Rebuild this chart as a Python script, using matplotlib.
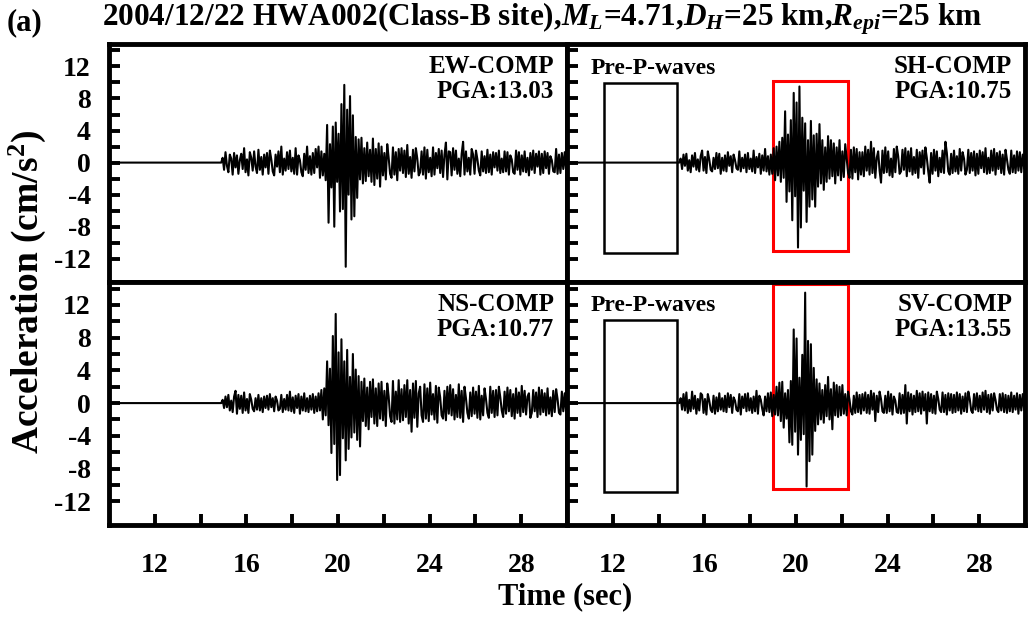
import numpy as np
import matplotlib.pyplot as plt
from matplotlib.patches import Rectangle

plt.rcParams['font.family'] = 'Liberation Serif'
plt.rcParams['font.weight'] = 'bold'
plt.rcParams['mathtext.fontset'] = 'custom'
plt.rcParams['mathtext.rm'] = 'Liberation Serif:bold'
plt.rcParams['mathtext.it'] = 'Liberation Serif:italic:bold'
plt.rcParams['mathtext.bf'] = 'Liberation Serif:bold'

# record starts flat at t_pre, samples (16 per sec) begin at t_start
t_pre = 10.0
t_start = 14.9
dt = 0.0625

# accelerations (cm/s^2), one row per second
ew = [
    0.0, 0.6, -0.9, 1.3, -0.4, -1.2, 1.0, 0.5, -1.5, 1.2, -0.6, 0.9, -1.4, 0.3, 1.1, -0.8,
    1.8, -1.2, 0.4, -1.6, 1.3, 0.6, -1.0, 1.4, -0.5, -1.3, 1.6, -0.9, 0.7, -1.5, 1.0, -0.6,
    1.2, -1.4, 1.5, 0.4, -1.1, -1.6, 1.0, -0.5, 1.4, -1.2, 2.0, -1.5, 0.5, -1.0, 1.3, -0.8,
    1.5, -1.1, 0.6, -1.4, 1.8, -1.5, 0.9, 0.3, -1.2, -1.7, 1.1, -0.9, 2.0, -1.3, 0.8, -1.5,
    1.2, -1.3, 1.7, -0.6, 2.0, -1.9, 1.4, -1.6, 1.1, -2.2, 4.7, -7.5, 2.3, -3.1, 4.5, -8.0,
    5.0, -2.4, 3.6, -6.1, 7.3, -5.8, 9.7, -13.0, 6.6, -4.0, 8.3, -7.1, 5.9, -6.7, 3.2, -4.4,
    2.9, -2.1, 3.1, -2.6, 1.8, -2.3, 2.5, -1.7, 1.6, -2.4, 3.0, -2.8, 1.7, -2.0, 2.4, -3.0,
    2.0, -1.6, 1.2, -2.1, 2.3, 0.6, -1.4, -1.9, 1.9, -1.5, 1.3, -2.2, 1.7, -1.0, 1.8, -1.3,
    1.5, -1.8, 2.2, -1.4, 0.7, -1.9, 1.6, -1.1, 1.8, 0.5, -1.6, -1.2, 1.4, -1.5, 1.9, -2.0,
    1.6, -1.2, 0.6, -1.7, 1.9, -1.5, 1.2, -0.7, 1.7, -1.3, 1.5, -1.8, 1.0, 2.5, -2.1, 1.4,
    1.3, -1.6, 1.8, -0.9, 1.5, -1.4, 0.5, -1.7, 1.1, 2.6, -1.5, 1.4, -1.1, 0.6, -1.5, 1.7,
    1.0, -1.4, 1.5, 0.4, -1.0, -1.6, 1.4, -1.1, 0.8, -1.3, 1.6, -1.2, 1.0, -1.5, 1.3, -0.6,
    1.2, -1.0, 1.5, -1.3, 0.5, -1.2, 1.4, -1.1, 1.3, -1.5, 0.9, 0.4, -1.2, -1.4, 1.5, -0.9,
    1.3, -1.5, 0.9, -1.1, 1.4, -1.2, 0.6, -1.6, 1.2, -0.9, 1.5, -1.3, 1.1, -0.5, 1.4, -1.5,
    1.1, -1.3, 1.4, -0.7, 1.2, -1.4, 0.8, 0.3, -1.1, -1.2, 1.7, -1.4, 1.0, -1.3, 1.2, -0.8,
    1.3, -1.0,
]
sh = [
    0.0, 0.5, -0.8, 1.0, -0.4, 1.1, -1.0, 0.3, -1.2, 0.9, -0.5, 1.2, -0.9, 0.4, -1.1, 0.8,
    1.5, -1.0, 0.7, -1.3, 1.4, 0.4, -0.9, -1.1, 0.6, -0.8, 1.2, -0.7, 1.1, -1.4, 0.6, -1.0,
    0.9, -1.1, 1.3, -0.4, 0.8, -1.2, 1.0, 0.3, -0.7, -0.9, 1.4, -1.1, 0.6, -0.7, 1.0, -1.2,
    1.2, -0.8, 0.5, -1.1, 1.5, -1.3, 0.7, -0.6, 1.1, -1.4, 0.9, -1.0, 1.7, -1.1, 0.8, -1.5,
    1.0, -1.4, 1.8, -2.2, 2.0, -1.6, 2.6, -2.4, 3.1, -1.9, 6.4, -4.9, 3.5, -3.6, 5.3, -7.2,
    8.7, -4.2, 7.5, -10.6, 9.5, -8.1, 5.6, -3.5, 4.9, -7.4, 2.8, -5.5, 5.2, -4.6, 3.4, -5.5,
    3.6, -3.0, 4.8, -2.6, 2.8, -3.4, 1.9, -2.4, 3.3, -2.0, 2.8, -1.7, 2.4, -2.6, 1.9, -1.6,
    2.8, -2.2, 1.4, -1.8, 2.3, 0.5, -1.3, -1.9, 1.6, -2.0, 1.9, -1.2, 1.7, -2.1, 1.3, -1.5,
    1.3, -1.7, 2.0, -1.0, 1.6, -1.5, 2.6, -1.3, 1.8, -1.9, 0.6, 1.4, -1.0, -2.5, 1.5, -1.3,
    1.9, -1.2, 1.4, -1.6, 0.5, -1.8, 1.7, -1.2, 2.0, 0.8, -1.4, -1.1, 1.6, -0.9, 1.8, -1.7,
    1.4, -1.1, 1.8, -1.5, 0.7, -1.3, 1.6, -1.9, 1.3, -0.6, 1.5, -1.4, 1.9, 0.6, -1.1, -2.5,
    1.2, -1.4, 1.6, -1.0, 1.4, -1.7, 0.6, -1.2, 1.5, -1.3, 2.6, 1.2, -1.1, -1.5, 1.1, -1.3,
    1.5, -1.1, 0.8, -1.4, 1.7, -1.0, 1.3, 0.5, -1.5, -0.9, 1.6, -1.3, 1.2, -1.0, 1.4, -1.6,
    1.1, -1.4, 1.5, -0.7, 1.3, -1.2, 1.8, -1.4, 0.6, -1.3, 1.5, -1.0, 1.7, -1.5, 1.2, -0.8,
    1.4, -1.3, 1.0, -1.5, 1.6, 0.4, -0.9, -1.4, 1.5, -1.2, 0.9, -1.3, 1.4, -1.0, 1.3, -1.2,
    1.0, -0.7,
]
ns = [
    0.0, 0.4, -0.6, 0.8, -0.5, 1.0, -0.9, 0.3, -1.1, 0.8, 1.5, -1.3, 1.0, -0.7, 0.9, -1.2,
    1.3, -0.9, 0.5, -1.2, 1.1, 0.4, -0.7, -1.0, 0.6, -0.8, 1.0, -0.9, 0.6, -1.1, 0.8, -0.6,
    0.9, -0.8, 1.1, -0.5, 0.6, -1.0, 0.8, 0.3, -0.9, -0.7, 1.0, -1.1, 0.5, -0.8, 1.0, -0.9,
    1.4, -1.0, 0.7, -1.2, 0.9, -0.6, 1.1, -1.3, 0.8, -0.9, 1.2, -1.0, 0.6, -1.1, 0.9, -0.8,
    1.1, -1.2, 0.8, -1.0, 1.2, -0.9, 1.6, -2.0, 1.8, -1.5, 5.1, -2.7, 4.2, -6.1, 8.2, -5.0,
    10.9, -9.4, 6.2, -8.8, 7.8, -4.3, 5.1, -7.0, 6.5, -5.6, 3.2, -4.2, 6.0, -3.6, 4.1, -4.5,
    3.3, -5.3, 2.6, -2.2, 3.0, -2.8, 1.9, -3.2, 2.6, -1.7, 2.9, -2.5, 1.8, -2.8, 2.4, -1.9,
    2.6, -2.1, 1.5, -2.8, 2.4, 0.8, -1.6, -2.3, 2.7, -2.5, 1.4, -2.0, 2.8, -2.3, 1.7, -2.1,
    2.2, -1.7, 2.8, -2.5, 1.6, -3.5, 2.4, -1.8, 2.7, -2.9, 1.2, 2.0, -1.5, -2.3, 2.3, -1.9,
    1.8, -2.2, 2.5, -1.4, 1.1, -2.0, 2.1, -2.4, 1.9, 0.7, -1.5, -1.9, 1.5, -2.1, 2.0, -1.3,
    2.2, -1.5, 1.7, -2.0, 1.0, -1.7, 2.3, -1.8, 1.5, -2.3, 2.0, 0.6, -1.2, -1.9, 1.3, -1.6,
    1.9, -1.3, 1.4, -1.8, 2.1, -2.0, 0.9, -1.5, 1.8, 0.5, -1.2, -1.8, 2.0, -1.2, 1.5, -1.7,
    1.6, -1.5, 2.0, 0.7, -0.9, -1.7, 1.4, -1.3, 1.9, -1.0, 1.6, -1.6, 1.1, -1.9, 1.8, -1.2,
    1.3, -1.6, 2.1, -1.1, 1.5, -1.4, 0.8, 1.2, -1.8, -1.2, 1.6, -1.0, 1.3, -1.7, 1.9, -1.4,
    1.6, -1.1, 1.2, -1.5, 1.8, -1.3, 0.7, -1.6, 1.5, -1.1, 1.7, 0.5, -1.2, -1.4, 1.4, -1.0,
    1.2, -1.1,
]
sv = [
    0.0, 0.6, -0.8, 1.1, -0.9, 1.3, -1.2, 0.4, -1.0, 1.4, -0.7, 0.9, -1.3, 0.5, -0.9, 1.2,
    1.0, -1.2, 0.5, -1.4, 1.1, 0.3, -0.8, -1.1, 0.9, -1.3, 0.7, -1.0, 1.2, -0.8, 0.6, -1.0,
    0.9, -1.1, 1.2, -0.5, 1.0, -1.2, 0.7, 0.3, -0.8, -1.0, 1.1, -1.4, 0.8, -0.6, 1.1, -1.0,
    1.2, -0.9, 0.6, -1.2, 0.8, -1.0, 1.5, -1.3, 0.9, 0.4, -0.7, -1.5, 0.8, -1.0, 1.2, -1.1,
    1.3, -1.6, 1.0, -1.4, 2.0, -1.5, 2.5, -2.2, 2.6, -3.0, 1.2, -1.9, 1.6, -4.8, 2.7, -5.1,
    9.0, -3.5, 7.9, -6.3, 3.1, -4.5, 5.9, -3.8, 13.5, -10.2, 7.6, -7.1, 7.2, -6.3, 4.3, -3.4,
    2.9, -2.6, 2.4, -2.0, 1.6, -2.4, 2.2, -1.6, 3.2, -2.0, 1.7, -3.2, 2.5, -1.5, 2.2, -1.7,
    2.0, -1.5, 2.2, -1.3, 1.1, -1.5, 1.4, 0.4, -1.0, -1.4, 0.9, -1.2, 1.3, -1.1, 1.0, -1.3,
    1.1, -0.9, 1.3, -1.2, 1.0, -1.3, 1.5, -0.8, 1.2, -2.2, 0.9, -1.1, 1.4, 0.5, -1.0, -1.2,
    0.9, -1.2, 1.4, -1.0, 1.1, -1.4, 0.8, 0.3, -1.1, -1.2, 1.2, -1.3, 1.0, -1.2, 2.2, -2.5,
    1.3, -1.0, 1.1, -1.4, 0.9, -1.1, 1.5, -1.0, 1.2, -1.3, 1.4, -0.9, 1.1, -2.5, 1.3, -1.0,
    1.1, -1.2, 0.9, -1.3, 1.4, 0.5, -0.8, -1.1, 1.3, -1.1, 1.0, -1.4, 1.2, -0.9, 1.1, -1.2,
    1.0, -1.1, 1.3, -0.9, 1.1, -1.3, 0.8, -1.0, 1.2, -1.1, 1.4, 0.5, -0.9, -1.2, 1.1, -0.8,
    1.2, -1.0, 0.9, -1.1, 1.3, -0.8, 1.5, -1.1, 1.0, -1.3, 1.1, -0.9, 1.2, 0.4, -0.8, -1.1,
    1.1, -0.9, 1.2, -1.1, 1.0, -1.2, 0.9, -1.0, 1.3, -1.1, 0.9, -0.8, 1.2, -1.3, 1.0, -0.9,
    1.1, -0.8,
]

components = ["EW", "SH", "NS", "SV"]
traces = [ew, sh, ns, sv]
pga = [13.03, 10.75, 10.77, 13.55]

# windows marked on the SH / SV panels: (t0, t1, a_low, a_high)
prep_windows = {"SH": (11.6, 14.8, -11.3, 9.9), "SV": (11.6, 14.8, -10.85, 10.1)}
s_windows = {"SH": (19.0, 22.25, -11.0, 10.2), "SV": (19.0, 22.25, -10.5, 14.5)}

fig = plt.figure(figsize=(10.28, 6.19), dpi=100)

W, H = 1028, 619
left_x, mid_x, right_x = 109, 567, 1025
top_y, mid_y, bot_y = 44, 282, 525
boxes = [
    (left_x, top_y, mid_x, mid_y), (mid_x, top_y, right_x, mid_y),
    (left_x, mid_y, mid_x, bot_y), (mid_x, mid_y, right_x, bot_y),
]

for i, (comp, vals) in enumerate(zip(components, traces)):
    x0, y0, x1, y1 = boxes[i]
    ax = fig.add_axes([x0 / W, 1 - y1 / H, (x1 - x0) / W, (y1 - y0) / H])
    t = np.concatenate([[t_pre], t_start + dt * np.arange(len(vals))])
    a = np.concatenate([[0.0], vals])
    ax.plot(t, a, color="black", lw=1.5)

    ax.set_xlim(10, 30)
    ax.set_ylim(-14.9, 14.8)
    for sp in ax.spines.values():
        sp.set_linewidth(3.5)

    ax.set_yticks(np.arange(-12, 15, 2))
    ax.set_yticklabels([str(v) if v % 4 == 0 and v <= 12 else "" for v in range(-12, 15, 2)])
    ax.set_xticks(np.arange(12, 29, 2))
    ax.set_xticklabels([str(v) if v % 4 == 0 else "" for v in range(12, 29, 2)])
    ax.tick_params(direction="in", length=8, width=2.8, labelsize=20, pad=13)
    ax.tick_params(axis="x", pad=20)
    if i < 2:
        ax.tick_params(axis="x", length=0, labelbottom=False)
    if i % 2 == 1:
        ax.tick_params(axis="y", labelleft=False)

    ax.text(0.972, 0.955, f"{comp}-COMP\nPGA:{pga[i]:.2f}", transform=ax.transAxes,
            ha="right", va="top", fontsize=18, fontweight="bold", linespacing=1.1)

    if comp in prep_windows:
        p0, p1, lo, hi = prep_windows[comp]
        ax.add_patch(Rectangle((p0, lo), p1 - p0, hi - lo, fill=False, ec="black", lw=1.8))
        ax.text((p0 + p1) / 2 + 0.55, hi + 1.8, "Pre-P-waves", ha="center", va="center",
                fontsize=17, fontweight="bold")
        s0, s1, lo, hi = s_windows[comp]
        ax.add_patch(Rectangle((s0, lo), s1 - s0, hi - lo, fill=False, ec="red", lw=2.2))

fig.text(0.527, 0.969,
         r"2004/12/22 HWA002(Class-B site),$M_L$=4.71,$D_H$=25 km,$R_{epi}$=25 km",
         ha="center", va="center", fontsize=22.5, fontweight="bold")
fig.text(0.024, 0.963, "(a)", ha="center", va="center", fontsize=22, fontweight="bold")
fig.text(0.027, 0.528, r"Acceleration (cm/s$^\mathbf{2}$)", rotation=90, ha="center",
         va="center", fontsize=27, fontweight="bold")
fig.text(0.55, 0.036, "Time (sec)", ha="center", va="center", fontsize=22, fontweight="bold")

fig.savefig("out.png", dpi=100)
